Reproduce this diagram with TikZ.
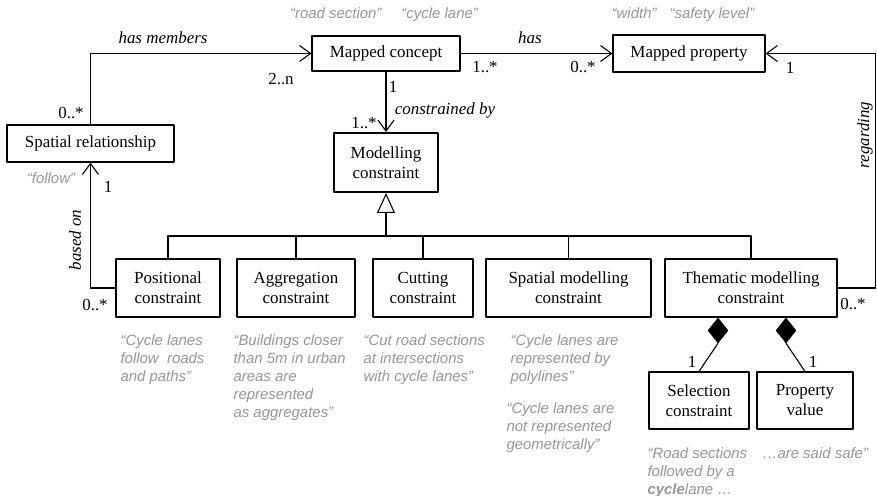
\documentclass[tikz,border=0pt]{standalone}
\usepackage{fontspec}
\setmainfont{Liberation Serif}
\newfontfamily\notefont{Liberation Sans}
\usepackage{xcolor}
\usetikzlibrary{arrows.meta,shapes.geometric}
\definecolor{notecol}{RGB}{150,150,150}

\begin{document}
\begin{tikzpicture}[>={Straight Barb[length=11bp,width=16bp]},line join=bevel,line width=1.1bp,
    cls/.style={draw, inner sep=0pt, align=center, font=\fontsize{17}{20}\selectfont},
    role/.style={inner sep=0pt, font=\fontsize{17}{20}\selectfont\itshape},
    mult/.style={inner sep=0pt, font=\fontsize{17}{20}\selectfont},
    ex/.style={inner sep=0pt, align=left, text=notecol, font=\notefont\fontsize{15}{18}\selectfont\itshape},
    comp/.style={draw, fill=black, diamond, inner sep=0pt, line width=0.5bp, minimum width=20bp, minimum height=25bp},
    ]
    \useasboundingbox (0bp,0bp) rectangle (877bp,496bp);
    %%
    \node[cls, minimum width=148bp, minimum height=35bp] (mc) at (386bp,442.5bp) {Mapped concept};
      \node[cls, minimum width=152bp, minimum height=37bp] (mp) at (689bp,442.5bp) {Mapped property};
      \node[cls, minimum width=167bp, minimum height=37bp] (srel) at (90.5bp,352.5bp) {Spatial relationship};
      \node[cls, minimum width=104bp, minimum height=59bp, line width=2bp] (mcon) at (386bp,333.5bp) {Modelling\\constraint};
      \node[cls, minimum width=104bp, minimum height=58bp] (pos) at (168bp,208bp) {Positional\\constraint};
      \node[cls, minimum width=118bp, minimum height=58bp] (agg) at (296bp,208bp) {Aggregation\\constraint};
      \node[cls, minimum width=100bp, minimum height=58bp] (cut) at (423bp,208bp) {Cutting\\constraint};
      \node[cls, minimum width=165bp, minimum height=58bp] (smc) at (568.5bp,208bp) {Spatial modelling\\constraint};
      \node[cls, minimum width=172bp, minimum height=58bp] (thm) at (751bp,208bp) {Thematic modelling\\constraint};
      \node[cls, minimum width=100bp, minimum height=57bp] (sel) at (699bp,95.5bp) {Selection\\constraint};
      \node[cls, minimum width=96bp, minimum height=57bp] (pv) at (805bp,95.5bp) {Property\\value};
      \node[comp] (d1) at (718bp,165.5bp) {};
      \node[comp] (d2) at (786bp,165.5bp) {};
      \coordinate (bus) at (386bp,260bp);
    %
      \draw [->] (srel.north) |- (mc.west);
      \node[role] (lhasm) at (163bp,458bp) {has members};
      \node[mult] (m1) at (71bp,383bp) {0..*};
      \node[mult] (m2) at (281bp,417bp) {2..n};
      \draw [->] (mc.east) -- (mp.west);
      \node[role] (lhas) at (530bp,458bp) {has};
      \node[mult] (m3) at (485bp,429bp) {1..*};
      \node[mult] (m4) at (583bp,429bp) {0..*};
      \draw [->] (mc.south) -- (mcon.north);
      \node[role] (lcon) at (445bp,386bp) {constrained by};
      \node[mult] (m5) at (393bp,409bp) {1};
      \node[mult] (m6) at (364bp,373bp) {1..*};
      \draw [->] (pos.west) -| (srel.south);
      \node[role, rotate=90] (lbas) at (75bp,256bp) {based on};
      \node[mult] (m7) at (108bp,309bp) {1};
      \node[mult] (m8) at (95bp,191bp) {0..*};
      \draw [->] (thm.east) -- ++(38bp,0bp) |- (mp.east);
      \node[role, rotate=90] (lreg) at (865bp,361bp) {regarding};
      \node[mult] (m9) at (790bp,428bp) {1};
      \node[mult] (m10) at (853bp,192bp) {0..*};
    %
      \draw [line width=2.2bp, -{Triangle[open,length=20bp,width=18bp,line width=1.1bp]}] (bus) -- (mcon.south);
      \draw (pos.north) -- (pos.north |- bus) -- (thm.north |- bus) -- (thm.north);
      \draw [line width=1.8bp] (bus) -- (smc.north |- bus);
      \draw (agg.north) -- (agg.north |- bus);
      \draw (cut.north) -- (cut.north |- bus);
      \draw (smc.north) -- (smc.north |- bus);
    %
      \draw (d1.south) -- (sel.north);
      \draw (d2.south) -- (pv.north);
      \node[mult] (m11) at (692bp,134bp) {1};
      \node[mult] (m12) at (813bp,134bp) {1};
    %
      \node[ex] (xmc) at (384bp,481bp) {“road section”\hspace{20bp}“cycle lane”};
      \node[ex] (xmp) at (683bp,481bp) {“width”\hspace{13bp}“safety level”};
      \node[ex] (xsrel) at (51bp,318bp) {“follow”};
      \node[ex, anchor=north west] (xpos) at (120bp,162bp) {“Cycle lanes\\follow\ \ roads\\and paths”};
      \node[ex, anchor=north west] (xagg) at (233bp,162bp) {“Buildings closer\\than 5m in urban\\areas are\\represented\\as aggregates”};
      \node[ex, anchor=north west] (xcut) at (363bp,162bp) {“Cut road sections\\at intersections\\with cycle lanes”};
      \node[ex, anchor=north west] (xsmc) at (510bp,162bp) {“Cycle lanes are\\represented by\\polylines”};
      \node[ex, anchor=north west] (xsmcb) at (506bp,94bp) {“Cycle lanes are\\not represented\\geometrically”};
      \node[ex, anchor=north west] (xsel) at (647bp,49bp) {“Road sections\\followed by a\\{\bfseries cycle}lane …};
      \node[ex, anchor=north west] (xpv) at (762bp,49bp) {…are said safe”};
    %
    \end{tikzpicture}
\end{document}
